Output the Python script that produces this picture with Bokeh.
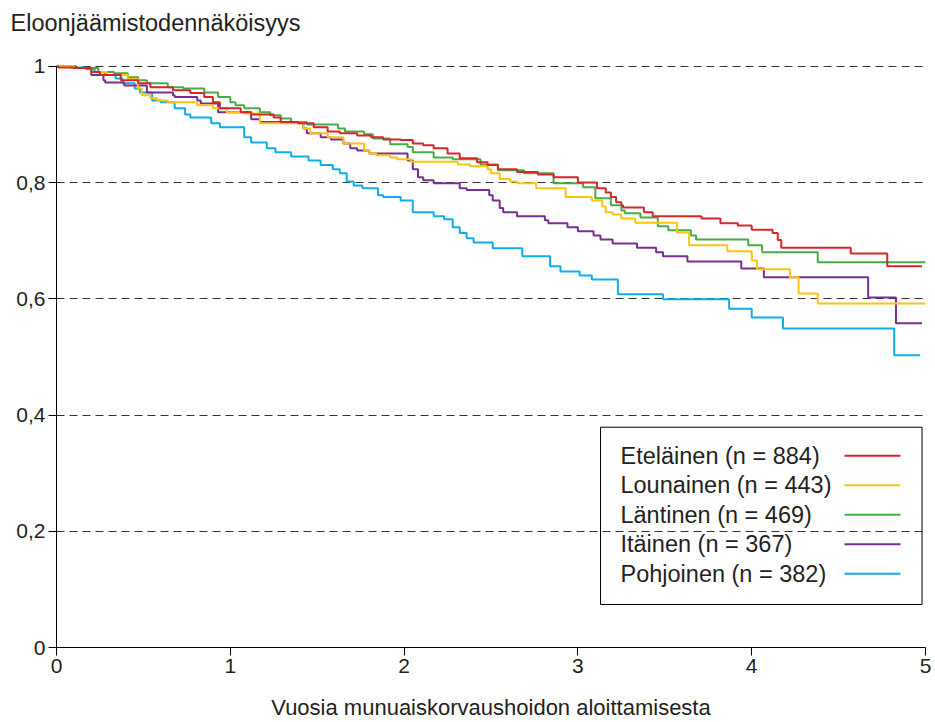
from bokeh.plotting import figure
from bokeh.models import Range1d, FixedTicker, Label, BoxAnnotation, Title
from bokeh.embed import file_html
from bokeh.resources import INLINE

# ---------------- data ----------------
names = ["Eteläinen (n = 884)", "Lounainen (n = 443)", "Läntinen (n = 469)",
         "Itäinen (n = 367)", "Pohjoinen (n = 382)"]
colors = ["#d9262b", "#fec40f", "#46ad46", "#7b2e92", "#0eaeea"]

etela_t = [0.01, 0.10, 0.20, 0.25, 0.37, 0.47, 0.54, 0.67, 0.77, 0.85, 0.90, 0.94, 1.06, 1.12,
           1.25, 1.29, 1.39, 1.48, 1.56, 1.63, 1.73, 1.81, 1.88, 1.98, 2.05, 2.11, 2.17, 2.25,
           2.32, 2.42, 2.48, 2.54, 2.65, 2.77, 2.86, 3.00, 3.11, 3.16, 3.19, 3.22, 3.25, 3.26,
           3.38, 3.43, 3.71, 3.82, 3.92, 4.00, 4.12, 4.15, 4.17, 4.57, 4.78]
etela_s = [0.998, 0.997, 0.990, 0.985, 0.976, 0.971, 0.964, 0.959, 0.954, 0.947, 0.938, 0.928,
           0.921, 0.917, 0.912, 0.904, 0.902, 0.895, 0.888, 0.885, 0.881, 0.878, 0.874, 0.873,
           0.867, 0.864, 0.859, 0.850, 0.842, 0.835, 0.830, 0.823, 0.818, 0.814, 0.809, 0.800,
           0.790, 0.783, 0.775, 0.766, 0.761, 0.757, 0.749, 0.742, 0.738, 0.730, 0.726, 0.719,
           0.713, 0.701, 0.688, 0.678, 0.656]
etela_end = 4.98

lounas_t = [0.10, 0.20, 0.29, 0.41, 0.47, 0.49, 0.54, 0.58, 0.64, 0.81, 0.90, 0.98, 1.08, 1.17,
            1.42, 1.46, 1.56, 1.65, 1.77, 1.80, 1.84, 1.92, 1.96, 2.04, 2.31, 2.38, 2.48, 2.50,
            2.55, 2.61, 2.65, 2.76, 2.93, 3.08, 3.14, 3.16, 3.20, 3.25, 3.33, 3.57, 3.64, 3.86,
            4.00, 4.03, 4.22, 4.27, 4.38]
lounas_s = [0.997, 0.990, 0.985, 0.978, 0.962, 0.950, 0.945, 0.941, 0.938, 0.933, 0.928, 0.921,
            0.919, 0.902, 0.893, 0.885, 0.878, 0.867, 0.855, 0.850, 0.847, 0.843, 0.840, 0.836,
            0.831, 0.828, 0.823, 0.816, 0.806, 0.802, 0.799, 0.790, 0.775, 0.769, 0.759, 0.749,
            0.745, 0.738, 0.731, 0.714, 0.692, 0.682, 0.666, 0.651, 0.637, 0.609, 0.592]
lounas_end = 5.00

lansi_t = [0.10, 0.24, 0.33, 0.41, 0.47, 0.52, 0.64, 0.73, 0.85, 0.93, 1.00, 1.03, 1.08, 1.17,
           1.23, 1.29, 1.35, 1.44, 1.62, 1.66, 1.77, 1.82, 1.92, 2.02, 2.05, 2.17, 2.28, 2.44,
           2.54, 2.69, 2.86, 3.03, 3.10, 3.19, 3.25, 3.27, 3.36, 3.46, 3.52, 3.65, 3.68, 3.98,
           4.06, 4.38]
lansi_s = [0.997, 0.990, 0.988, 0.981, 0.976, 0.971, 0.964, 0.962, 0.955, 0.947, 0.938, 0.933,
           0.928, 0.921, 0.916, 0.910, 0.904, 0.900, 0.893, 0.888, 0.883, 0.876, 0.866, 0.861,
           0.852, 0.843, 0.840, 0.831, 0.821, 0.816, 0.799, 0.792, 0.773, 0.761, 0.752, 0.747,
           0.740, 0.725, 0.718, 0.709, 0.702, 0.692, 0.680, 0.663]
lansi_end = 5.00

ita_t = [0.11, 0.20, 0.27, 0.28, 0.39, 0.52, 0.67, 0.68, 0.81, 0.83, 0.93, 1.12, 1.17, 1.42,
         1.44, 1.52, 1.58, 1.65, 1.69, 1.73, 1.80, 2.02, 2.05, 2.08, 2.11, 2.17, 2.32, 2.36,
         2.49, 2.51, 2.55, 2.57, 2.65, 2.81, 2.83, 2.94, 3.00, 3.09, 3.13, 3.20, 3.34, 3.45,
         3.49, 3.63, 3.94, 4.07, 4.67, 4.83]
ita_s = [0.997, 0.985, 0.976, 0.972, 0.967, 0.955, 0.950, 0.947, 0.941, 0.936, 0.921, 0.909,
         0.904, 0.893, 0.885, 0.878, 0.874, 0.867, 0.859, 0.855, 0.850, 0.838, 0.823, 0.809,
         0.804, 0.799, 0.790, 0.787, 0.778, 0.769, 0.756, 0.749, 0.742, 0.735, 0.730, 0.723,
         0.716, 0.709, 0.702, 0.695, 0.688, 0.680, 0.673, 0.664, 0.652, 0.637, 0.602, 0.558]
ita_end = 4.98

pohjoinen_t = [0.08, 0.17, 0.22, 0.28, 0.34, 0.38, 0.45, 0.48, 0.55, 0.60, 0.68, 0.74, 0.77,
               0.89, 0.94, 1.08, 1.12, 1.21, 1.26, 1.35, 1.45, 1.52, 1.59, 1.63, 1.67, 1.71,
               1.76, 1.85, 1.88, 1.98, 2.05, 2.17, 2.23, 2.28, 2.32, 2.36, 2.40, 2.51, 2.68,
               2.84, 2.90, 3.01, 3.08, 3.23, 3.49, 3.87, 4.00, 4.18, 4.82]
pohjoinen_s = [0.998, 0.995, 0.990, 0.985, 0.979, 0.971, 0.962, 0.955, 0.941, 0.938, 0.928,
               0.917, 0.912, 0.902, 0.895, 0.878, 0.869, 0.859, 0.852, 0.845, 0.838, 0.830,
               0.823, 0.816, 0.802, 0.795, 0.790, 0.778, 0.775, 0.769, 0.749, 0.742, 0.737,
               0.723, 0.713, 0.704, 0.697, 0.687, 0.673, 0.656, 0.647, 0.640, 0.633, 0.608,
               0.599, 0.583, 0.568, 0.549, 0.503]
pohjoinen_end = 4.97

x_ticks = [0, 1, 2, 3, 4, 5]
y_ticks = [0, 0.2, 0.4, 0.6, 0.8, 1]
y_tick_labels = ["0", "0,2", "0,4", "0,6", "0,8", "1"]
y_title = "Eloonjäämistodennäköisyys"
x_title = "Vuosia munuaiskorvaushoidon aloittamisesta"

series = [
    (etela_t, etela_s, etela_end),
    (lounas_t, lounas_s, lounas_end),
    (lansi_t, lansi_s, lansi_end),
    (ita_t, ita_s, ita_end),
    (pohjoinen_t, pohjoinen_s, pohjoinen_end),
]

FONT = "Liberation Sans"
TXT = "#231f20"

p = figure(width=935, height=722, x_range=Range1d(0, 5), y_range=Range1d(0, 1.01),
           output_backend="svg", toolbar_location=None,
           min_border_left=56, min_border_right=10, min_border_top=60, min_border_bottom=75)
p.outline_line_color = None
p.background_fill_color = "white"
p.border_fill_color = "white"

# y-axis title, written horizontally above the plot (a blank spacer panel sits
# between it and the frame so that it lands near the top edge)
p.add_layout(Title(text=" ", text_font=FONT, text_font_size="12px", standoff=9), "above")
p.add_layout(Title(text=y_title, align="left", offset=-46, standoff=0,
                   text_font=FONT, text_font_size="23.5px", text_font_style="normal",
                   text_color=TXT), "above")

# grid
p.xgrid.grid_line_color = None
p.ygrid.ticker = FixedTicker(ticks=y_ticks)
p.ygrid.grid_line_color = "#333333"
p.ygrid.grid_line_dash = "8 5"
p.ygrid.grid_line_width = 1

# axes
p.xaxis.ticker = FixedTicker(ticks=x_ticks)
p.yaxis.ticker = FixedTicker(ticks=y_ticks)
p.yaxis.major_label_overrides = {v: s for v, s in zip(y_ticks, y_tick_labels)}
p.xaxis.bounds = (0, 5)
p.yaxis.bounds = (0, 1)
for ax in (p.xaxis, p.yaxis):
    ax.axis_line_color = "black"
    ax.axis_line_width = 1
    ax.major_tick_line_color = "black"
    ax.major_tick_out = 8
    ax.major_tick_in = 0
    ax.minor_tick_line_color = None
    ax.major_label_text_font = FONT
    ax.major_label_text_font_size = "21px"
    ax.major_label_text_color = TXT
p.xaxis.major_label_standoff = 3
p.yaxis.major_label_standoff = 3
p.xaxis.axis_label = x_title
p.xaxis.axis_label_text_font = FONT
p.xaxis.axis_label_text_font_size = "22px"
p.xaxis.axis_label_text_font_style = "normal"
p.xaxis.axis_label_text_color = TXT
p.xaxis.axis_label_standoff = 19

# curves (draw so that the first region ends on top)
for (t, s, end), col in reversed(list(zip(series, colors))):
    xs = [0] + list(t) + [end]
    ys = [1] + list(s) + [s[-1]]
    p.step(xs, ys, mode="after", line_color=col, line_width=2)

# legend (text left, line key right)
LEG_L, LEG_R, LEG_T, LEG_B = 3.13, 4.98, 0.379, 0.074
p.add_layout(BoxAnnotation(left=LEG_L, right=LEG_R, top=LEG_T, bottom=LEG_B,
                           fill_alpha=0, line_color="black", line_alpha=1, line_width=1))
row_y = [LEG_T - 0.049 - i * 0.0508 for i in range(len(names))]
for name, yy in zip(names, row_y):
    p.add_layout(Label(x=LEG_L + 0.115, y=yy, text=name, text_font=FONT,
                       text_font_size="23.5px", text_color=TXT, text_align="left",
                       text_baseline="middle"))
p.segment(x0=[LEG_L + 1.404] * len(names), y0=row_y,
          x1=[LEG_L + 1.726] * len(names), y1=row_y, line_color=colors, line_width=2)

open("out.html", "w").write(file_html(p, INLINE))
